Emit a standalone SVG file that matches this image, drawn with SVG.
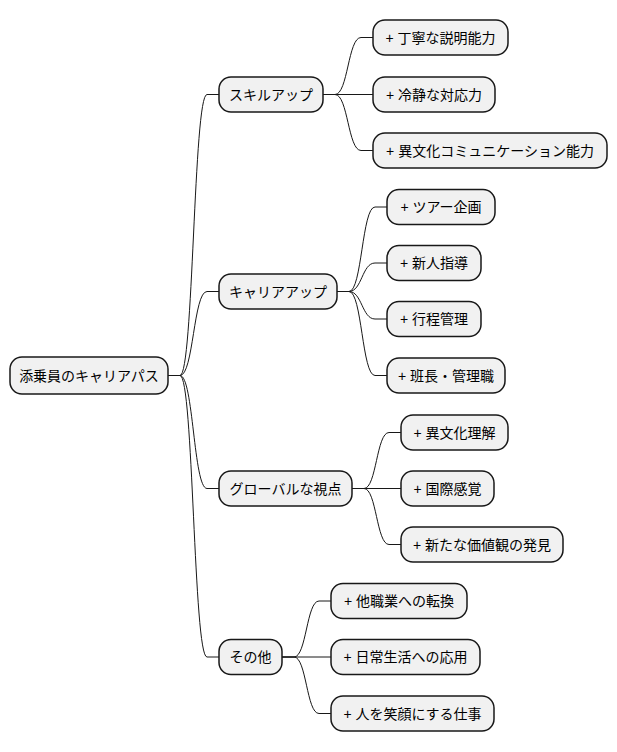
<svg xmlns="http://www.w3.org/2000/svg" width="617" height="752" viewBox="0 0 617 752">
<style>
.n rect{fill:#F1F1F1;stroke:#181818;stroke-width:1.5}
.n text{font-family:"Liberation Sans","Noto Sans CJK JP",sans-serif;font-size:14px;fill:#000;text-anchor:middle}
#connectors path{fill:none;stroke:#181818;stroke-width:1}
</style>
<rect width="617" height="752" fill="#FFFFFF"/>
<g id="connectors">
<path d="M168,375.5 L180,375.5 C193.5,375.5 193.5,94.5 207,94.5 L219,94.5"/>
<path d="M168,375.5 L180,375.5 C193.5,375.5 193.5,291.5 207,291.5 L219,291.5"/>
<path d="M168,375.5 L180,375.5 C193.5,375.5 193.5,488.5 207,488.5 L219,488.5"/>
<path d="M168,375.5 L180,375.5 C193.5,375.5 193.5,657 207,657 L219,657"/>
<path d="M323,94.5 L335,94.5 C348,94.5 348,37.5 361,37.5 L373,37.5"/>
<path d="M323,94.5 L373,94.5"/>
<path d="M323,94.5 L335,94.5 C348,94.5 348,150.5 361,150.5 L373,150.5"/>
<path d="M337,291.5 L349,291.5 C362,291.5 362,207 375,207 L387,207"/>
<path d="M337,291.5 L349,291.5 C362,291.5 362,263 375,263 L387,263"/>
<path d="M337,291.5 L349,291.5 C362,291.5 362,319 375,319 L387,319"/>
<path d="M337,291.5 L349,291.5 C362,291.5 362,375.5 375,375.5 L387,375.5"/>
<path d="M352,488.5 L364,488.5 C376.5,488.5 376.5,432.5 389,432.5 L401,432.5"/>
<path d="M352,488.5 L401,488.5"/>
<path d="M352,488.5 L364,488.5 C376.5,488.5 376.5,544.5 389,544.5 L401,544.5"/>
<path d="M282,657 L294,657 C306.5,657 306.5,601 319,601 L331,601"/>
<path d="M282,657 L331,657"/>
<path d="M282,657 L294,657 C306.5,657 306.5,713.5 319,713.5 L331,713.5"/>
</g>
<g id="root" class="n"><rect x="10" y="357" width="158" height="37" rx="12"/><text x="89" y="380.5">添乗員のキャリアパス</text></g>
<g id="skillup" class="n"><rect x="219" y="77" width="104" height="35" rx="12"/><text x="271" y="99.5">スキルアップ</text></g>
<g id="s1" class="n"><rect x="373" y="20" width="135" height="35" rx="12"/><text x="440.5" y="42.5">+ 丁寧な説明能力</text></g>
<g id="s2" class="n"><rect x="373" y="77" width="122" height="35" rx="12"/><text x="434" y="99.5">+ 冷静な対応力</text></g>
<g id="s3" class="n"><rect x="373" y="133" width="234" height="35" rx="12"/><text x="490" y="155.5">+ 異文化コミュニケーション能力</text></g>
<g id="careerup" class="n"><rect x="219" y="274" width="118" height="35" rx="12"/><text x="278" y="296.5">キャリアアップ</text></g>
<g id="c1" class="n"><rect x="387" y="189.5" width="108" height="35" rx="12"/><text x="441" y="212">+ ツアー企画</text></g>
<g id="c2" class="n"><rect x="387" y="245.5" width="94" height="35" rx="12"/><text x="434" y="268">+ 新人指導</text></g>
<g id="c3" class="n"><rect x="387" y="301.5" width="94" height="35" rx="12"/><text x="434" y="324">+ 行程管理</text></g>
<g id="c4" class="n"><rect x="387" y="358" width="118" height="35" rx="12"/><text x="446" y="380.5">+ 班長・管理職</text></g>
<g id="global" class="n"><rect x="219" y="471" width="133" height="35" rx="12"/><text x="285.5" y="493.5">グローバルな視点</text></g>
<g id="g1" class="n"><rect x="401" y="415" width="107" height="35" rx="12"/><text x="454.5" y="437.5">+ 異文化理解</text></g>
<g id="g2" class="n"><rect x="401" y="471" width="93" height="35" rx="12"/><text x="447.5" y="493.5">+ 国際感覚</text></g>
<g id="g3" class="n"><rect x="401" y="527" width="162" height="35" rx="12"/><text x="482" y="549.5">+ 新たな価値観の発見</text></g>
<g id="other" class="n"><rect x="219" y="639.5" width="63" height="35" rx="12"/><text x="250.5" y="662">その他</text></g>
<g id="o1" class="n"><rect x="331" y="583.5" width="136" height="35" rx="12"/><text x="399" y="606">+ 他職業への転換</text></g>
<g id="o2" class="n"><rect x="331" y="639.5" width="149" height="35" rx="12"/><text x="405.5" y="662">+ 日常生活への応用</text></g>
<g id="o3" class="n"><rect x="331" y="696" width="163" height="35" rx="12"/><text x="412.5" y="718.5">+ 人を笑顔にする仕事</text></g>
</svg>
